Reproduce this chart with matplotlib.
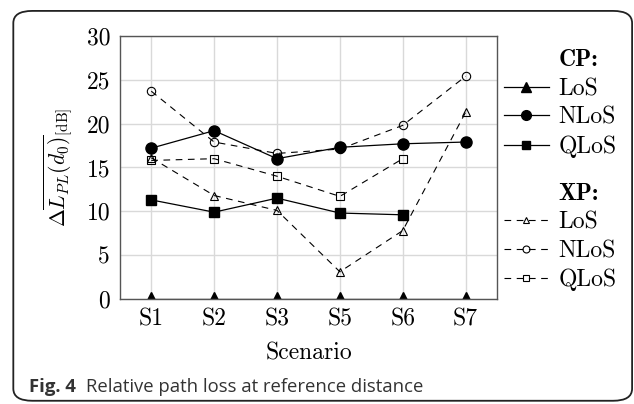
import matplotlib
matplotlib.use('Agg')
import matplotlib.pyplot as plt
from matplotlib.lines import Line2D
from matplotlib.patches import FancyBboxPatch

plt.rcParams['mathtext.fontset'] = 'cm'
plt.rcParams['axes.unicode_minus'] = False

scenarios = ['S1', 'S2', 'S3', 'S5', 'S6', 'S7']

# CP (co-polar)
cp_los = [0, 0, 0, 0, 0, 0]
cp_nlos = [17.2, 19.2, 16.0, 17.3, 17.7, 17.9]
cp_qlos = [11.3, 9.9, 11.5, 9.8, 9.6, None]

# XP (cross-polar)
xp_los = [16.1, 11.8, 10.1, 3.1, 7.8, 21.3]
xp_nlos = [23.7, 17.9, 16.6, 17.1, 19.8, 25.4]
xp_qlos = [15.8, 16.0, 14.0, 11.7, 16.0, None]

x = list(range(1, len(scenarios) + 1))

def potong(vals):
    # buang titik kosong
    xs = [xi for xi, v in zip(x, vals) if v is not None]
    ys = [v for v in vals if v is not None]
    return xs, ys

fig = plt.figure(figsize=(6.34, 4.04), dpi=100)
ax = fig.add_axes([0.189, 0.260, 0.595, 0.651])

tebal = dict(color='black', linewidth=0.9, linestyle='-', markeredgecolor='black')
putus = dict(color='black', linewidth=0.8, linestyle=(0, (6, 5)), markerfacecolor='none',
             markeredgecolor='black', markeredgewidth=0.8)

ax.plot(*potong(xp_los), marker='^', markersize=6, **putus)
ax.plot(*potong(xp_nlos), marker='o', markersize=6, **putus)
ax.plot(*potong(xp_qlos), marker='s', markersize=6, **putus)
ax.plot(*potong(cp_los), marker='^', markersize=10, **tebal)
ax.plot(*potong(cp_nlos), marker='o', markersize=8, **tebal)
ax.plot(*potong(cp_qlos), marker='s', markersize=7, **tebal)

ax.set_xlim(0.5, 6.5)
ax.set_ylim(0, 30)
ax.set_xticks(x)
ax.set_xticklabels(scenarios)
ax.set_yticks(range(0, 31, 5))
ax.grid(True, color='#d9d9d9', linewidth=1.0)
ax.set_axisbelow(True)
ax.tick_params(direction='in', length=0, colors='#555555', labelcolor='black',
               labelsize=17, pad=7)
for lbl in ax.get_xticklabels() + ax.get_yticklabels():
    lbl.set_fontfamily('cmr10')
for sp in ax.spines.values():
    sp.set_color('#555555')
    sp.set_linewidth(1.0)

ax.set_xlabel('Scenario', fontfamily='cmr10', fontsize=17, labelpad=8)
ax.set_ylabel(r'$\Delta\overline{L_{PL}(d_0)}_{[\mathrm{dB}]}$', fontsize=15.5, labelpad=8)

# legenda dua kelompok
kosong = Line2D([], [], linestyle='none')
h_cp = [kosong,
        Line2D([], [], marker='^', markersize=7, **tebal),
        Line2D([], [], marker='o', markersize=7, **tebal),
        Line2D([], [], marker='s', markersize=6, **tebal)]
h_xp = [kosong,
        Line2D([], [], marker='^', markersize=5, **putus),
        Line2D([], [], marker='o', markersize=5, **putus),
        Line2D([], [], marker='s', markersize=5, **putus)]
nama = ['LoS', 'NLoS', 'QLoS']

def buat_legenda(handles, judul, y):
    leg = fig.legend(handles, [judul] + nama, loc='upper left', bbox_to_anchor=(0.795, y),
                     frameon=False, handlelength=1.9, handletextpad=0.4,
                     borderpad=0, borderaxespad=0,
                     labelspacing=0.28, prop={'family': 'cmr10', 'size': 17})
    leg.get_texts()[0].set_fontfamily('cmb10')
    return leg

buat_legenda(h_cp, 'CP:', 0.878)
buat_legenda(h_xp, 'XP:', 0.548)

# keterangan gambar
fig.text(0.046, 0.03, 'Fig. 4', fontfamily='Open Sans', fontweight='bold',
         fontsize=13.3, color='#333333', va='baseline')
fig.text(0.136, 0.03, 'Relative path loss at reference distance', fontfamily='Open Sans',
         fontsize=13.3, color='#333333', va='baseline')

kotak = FancyBboxPatch((0.021, 0.008), 0.976, 0.965, boxstyle='round,pad=0,rounding_size=0.03',
                       transform=fig.transFigure, fill=False, edgecolor='#222222',
                       linewidth=1.3)
fig.patches.append(kotak)

fig.savefig('out.png', dpi=100)
